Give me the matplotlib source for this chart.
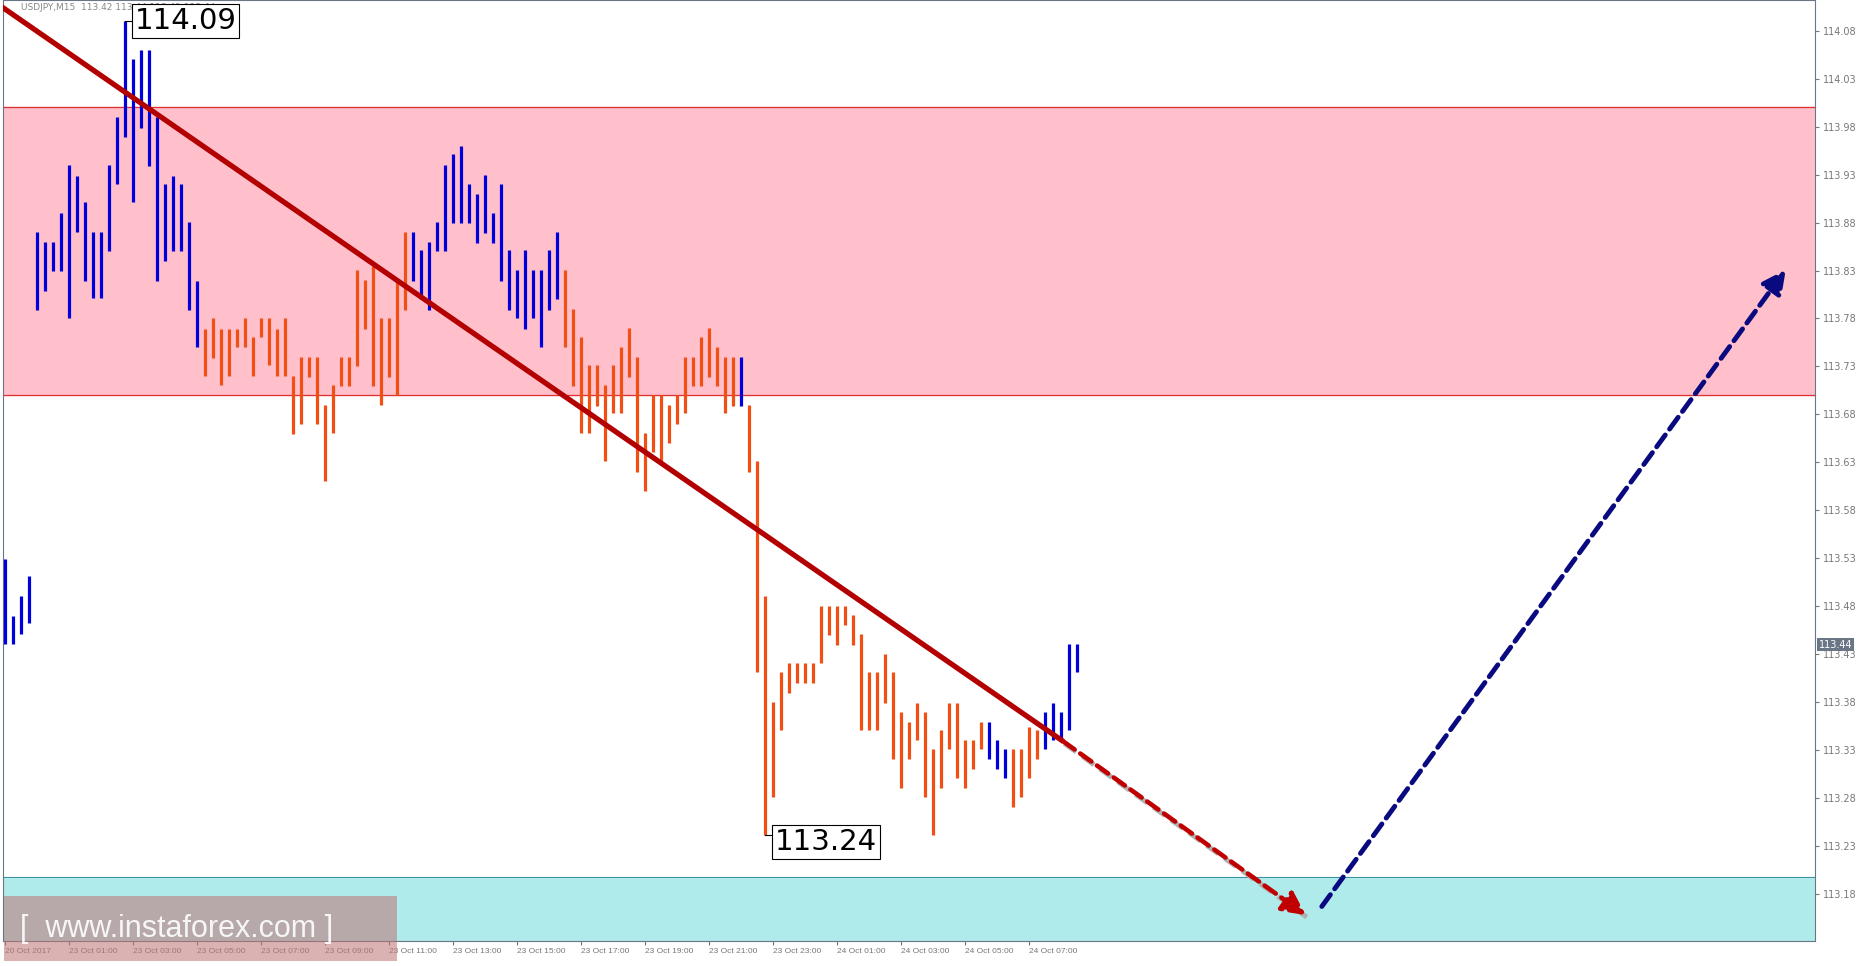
import matplotlib
matplotlib.use("Agg")
import matplotlib.pyplot as plt
from matplotlib.patches import Rectangle
import numpy as np

highs = [113.529,113.470,113.491,113.511,113.870,113.860,113.860,113.890,113.940,113.929,
 113.901,113.870,113.870,113.940,113.990,114.090,114.050,114.060,114.060,113.990,
 113.920,113.929,113.920,113.881,113.819,113.769,113.780,113.769,113.769,113.769,
 113.780,113.761,113.780,113.780,113.769,113.780,113.720,113.740,113.740,113.740,
 113.690,113.711,113.740,113.740,113.831,113.820,113.835,113.781,113.781,113.818,
 113.870,113.870,113.851,113.860,113.881,113.940,113.951,113.960,113.920,113.910,
 113.930,113.890,113.920,113.851,113.831,113.851,113.831,113.831,113.851,113.870,
 113.831,113.790,113.761,113.731,113.731,113.711,113.731,113.750,113.770,113.740,
 113.661,113.700,113.700,113.690,113.700,113.740,113.740,113.761,113.770,113.750,
 113.740,113.740,113.740,113.690,113.631,113.491,113.380,113.411,113.421,113.421,
 113.421,113.421,113.480,113.480,113.480,113.480,113.471,113.451,113.411,113.411,
 113.430,113.411,113.370,113.359,113.379,113.370,113.331,113.351,113.379,113.379,
 113.341,113.341,113.359,113.359,113.341,113.331,113.331,113.331,113.354,113.351,
 113.370,113.379,113.370,113.441,113.441]
lows = [113.441,113.441,113.451,113.462,113.789,113.809,113.830,113.830,113.780,113.870,
 113.819,113.801,113.801,113.850,113.920,113.969,113.901,113.979,113.939,113.819,
 113.840,113.850,113.850,113.789,113.750,113.720,113.739,113.711,113.720,113.750,
 113.750,113.720,113.761,113.731,113.720,113.720,113.660,113.670,113.719,113.670,
 113.611,113.661,113.710,113.710,113.730,113.769,113.710,113.690,113.719,113.700,
 113.789,113.819,113.800,113.789,113.850,113.850,113.880,113.880,113.880,113.859,
 113.869,113.859,113.819,113.789,113.780,113.769,113.780,113.750,113.789,113.800,
 113.750,113.710,113.661,113.661,113.689,113.631,113.681,113.681,113.719,113.620,
 113.600,113.641,113.631,113.650,113.670,113.681,113.710,113.710,113.719,113.710,
 113.681,113.689,113.689,113.620,113.411,113.241,113.281,113.351,113.390,113.400,
 113.400,113.400,113.421,113.450,113.440,113.460,113.440,113.351,113.351,113.351,
 113.379,113.321,113.291,113.321,113.341,113.281,113.241,113.291,113.331,113.301,
 113.291,113.310,113.331,113.321,113.310,113.301,113.271,113.281,113.301,113.321,
 113.331,113.341,113.341,113.351,113.411]
# bars drawn in blue (up); the rest orange
up_ranges = [(0, 24), (51, 69), (92, 92), (123, 125), (130, 134)]
price_ticks = [114.08,114.03,113.98,113.93,113.88,113.83,113.78,113.73,113.68,113.63,
 113.58,113.53,113.48,113.43,113.38,113.33,113.28,113.23,113.18]
time_labels = ["20 Oct 2017","23 Oct 01:00","23 Oct 03:00","23 Oct 05:00","23 Oct 07:00",
 "23 Oct 09:00","23 Oct 11:00","23 Oct 13:00","23 Oct 15:00","23 Oct 17:00","23 Oct 19:00",
 "23 Oct 21:00","23 Oct 23:00","24 Oct 01:00","24 Oct 03:00","24 Oct 05:00","24 Oct 07:00"]
time_pos = [0] + list(range(8, 129, 8))
resist_zone = (113.70, 114.00)
support_zone = (113.131, 113.198)
trend_solid = ([-0.6, 132.3], [114.106, 113.339])
trend_dash = ([132.3, 162.6], [113.339, 113.158])
forecast = ([164.6, 222.6], [113.167, 113.831])
last_price = 113.44

W, H = 1857, 966
fig = plt.figure(figsize=(W/100, H/100), dpi=100)
ax = fig.add_axes([3/W, 25/H, 1812/W, 941/H])
ax.set_xlim(-0.25, 226.25)
ax.set_ylim(113.131, 114.112)

ax.axhspan(*resist_zone, color='#ffc0cb', zorder=0)
for y in resist_zone:
    ax.axhline(y, color='#e03030', lw=0.9, zorder=1)
ax.axhspan(*support_zone, color='#afebeb', zorder=0)
ax.axhline(support_zone[1], color='#3a8fa0', lw=0.7, zorder=1)

n = len(highs)
idx = np.arange(n)
colors = ['#f05014'] * n
for a, b in up_ranges:
    for i in range(a, b + 1):
        colors[i] = '#0000dd'
ax.vlines(idx, lows, highs, colors=colors, lw=2.3, zorder=3)

ax.plot(*trend_solid, color='#b30000', lw=3.8, zorder=4, solid_capstyle='butt')
ax.plot(trend_dash[0], trend_dash[1], color='#b0b0b0', lw=3.5, ls=(0, (3, 1.5)), zorder=4,
        transform=ax.transData + matplotlib.transforms.ScaledTranslation(1/100, -2/100, fig.dpi_scale_trans))
ax.annotate('', xy=(trend_dash[0][1], trend_dash[1][1]), xytext=(trend_dash[0][0], trend_dash[1][0]),
            arrowprops=dict(arrowstyle='-|>,head_length=1.4,head_width=0.7', color='#c00000', lw=3.3,
                            ls=(0, (3, 1.5)), shrinkA=0, shrinkB=0), zorder=5)
ax.annotate('', xy=(forecast[0][1], forecast[1][1]), xytext=(forecast[0][0], forecast[1][0]),
            arrowprops=dict(arrowstyle='-|>,head_length=1.4,head_width=0.7', color='#0a0a80', lw=3.5,
                            ls=(0, (3, 1.5)), shrinkA=0, shrinkB=0), zorder=5)

ax.text(2, 114.104, "USDJPY,M15  113.42 113.44 113.41 113.44", fontsize=6.5, color='#888888',
        va='center', ha='left', zorder=6)
ax.plot([15, 16.2], [114.09, 114.09], color='black', lw=0.8, zorder=6)
ax.text(16.2, 114.09, "114.09", fontsize=21, va='center', ha='left', zorder=7,
        bbox=dict(facecolor='white', edgecolor='black', boxstyle='square,pad=0.1', lw=0.8))
ax.plot([95, 96.2], [113.241, 113.241], color='black', lw=0.8, zorder=6)
ax.text(96.2, 113.234, "113.24", fontsize=21, va='center', ha='left', zorder=7,
        bbox=dict(facecolor='white', edgecolor='black', boxstyle='square,pad=0.1', lw=0.8))

ax.yaxis.tick_right()
ax.set_yticks(price_ticks)
ax.set_yticklabels([f"{t:.2f}" for t in price_ticks], fontsize=7, color='#777777')
ax.tick_params(axis='y', length=3, color='#777777', pad=3)
ax.text(1.002, (last_price - 113.131) / (114.112 - 113.131), f"{last_price:.2f}", transform=ax.transAxes,
        fontsize=7, color='white', va='center', ha='left',
        bbox=dict(facecolor='#6a7686', edgecolor='none', boxstyle='square,pad=0.15'))
ax.set_xticks(time_pos)
ax.set_xticklabels(time_labels, fontsize=6, color='#777777', ha='left', family='Liberation Sans')
ax.tick_params(axis='x', length=3, color='#777777', pad=2)
for s in ax.spines.values():
    s.set_color('#6a7686')

fig.patches.append(Rectangle((4/W, 5/H), 393/W, 65/H, transform=fig.transFigure,
                             facecolor=(0.75, 0.45, 0.45, 0.55), edgecolor='none', zorder=10))
fig.text(20/W, 37/H, "[  www.instaforex.com ]", fontsize=22, color='white', alpha=0.9,
         va='center', ha='left', zorder=11, family='Liberation Sans')

fig.savefig("out.png", dpi=100)
